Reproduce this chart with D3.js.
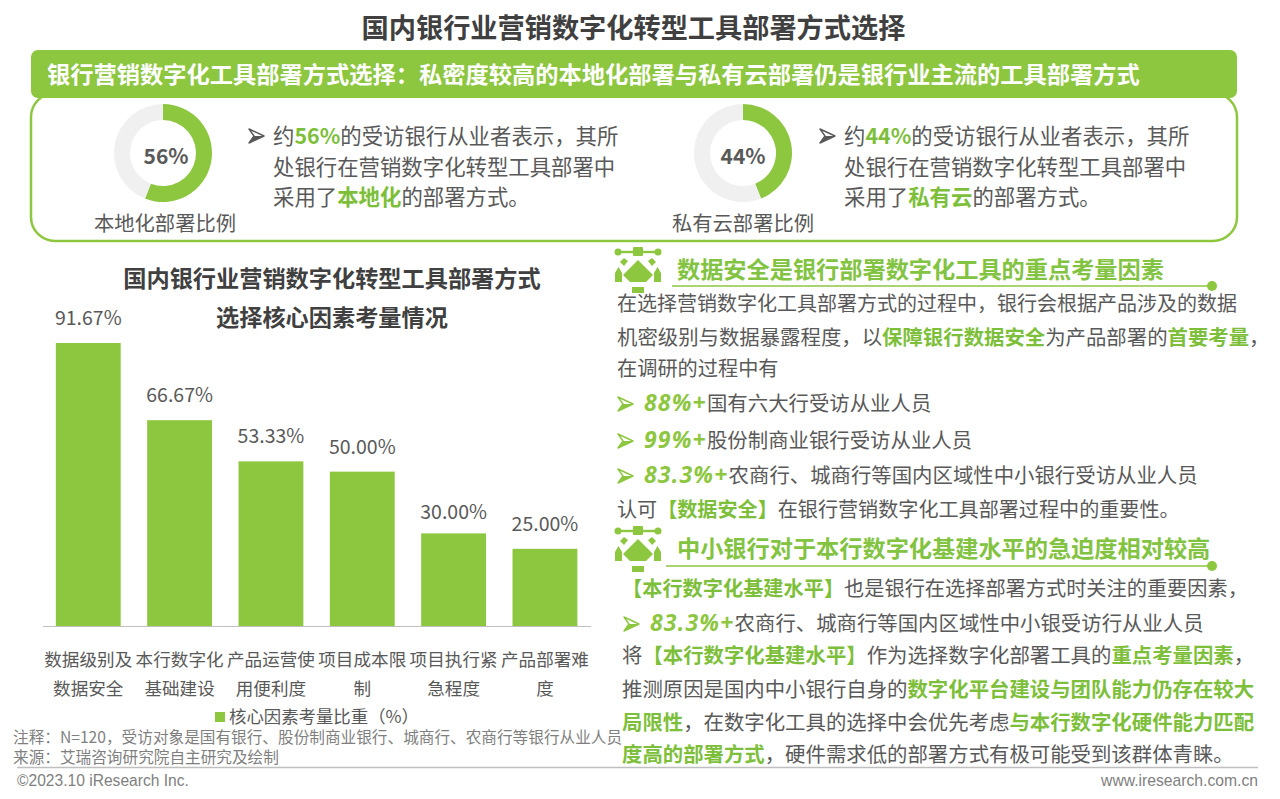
<!DOCTYPE html>
<html><head><meta charset="utf-8">
<script src="https://cdn.jsdelivr.net/npm/d3@7"></script>
<style>
html,body{margin:0;padding:0;background:#fff}
svg{display:block}
text{font-family:"Noto Sans CJK SC","Noto Sans",sans-serif}
</style></head><body><svg id="c" width="1280" height="799"></svg>
<script>
const GREEN="#8dc63f", GREY="#595959";
const categories=[["数据级别及","数据安全"],["本行数字化","基础建设"],["产品运营使","用便利度"],["项目成本限","制"],["项目执行紧","急程度"],["产品部署难","度"]];
const barValues=[91.67,66.67,53.33,50.00,30.00,25.00];
const donuts=[{label:"本地化部署比例",value:56,cx:163,lx:165,tx:3},{label:"私有云部署比例",value:44,cx:743,lx:743,tx:0}];
const pageTitle="国内银行业营销数字化转型工具部署方式选择";
const bannerText="银行营销数字化工具部署方式选择：私密度较高的本地化部署与私有云部署仍是银行业主流的工具部署方式";
const chartTitle=["国内银行业营销数字化转型工具部署方式","选择核心因素考量情况"];
const legendLabel="核心因素考量比重（%）";
const notes=["注释：N=120，受访对象是国有银行、股份制商业银行、城商行、农商行等银行从业人员","来源：艾瑞咨询研究院自主研究及绘制"];
// g = bold green, i = italic green
const textBlocks=[
 {x:273,y:144,s:21.4,segs:[["约"],["56%","g"],["的受访银行从业者表示，其所"]]},
 {x:273,y:175,s:21.4,segs:[["处银行在营销数字化转型工具部署中"]]},
 {x:273,y:205,s:21.4,segs:[["采用了"],["本地化","g"],["的部署方式。"]]},
 {x:844,y:144,s:21.4,segs:[["约"],["44%","g"],["的受访银行从业者表示，其所"]]},
 {x:844,y:175,s:21.4,segs:[["处银行在营销数字化转型工具部署中"]]},
 {x:844,y:205,s:21.4,segs:[["采用了"],["私有云","g"],["的部署方式。"]]},
 {x:617,y:311,s:20,segs:[["在选择营销数字化工具部署方式的过程中，银行会根据产品涉及的数据"]]},
 {x:617,y:345,s:20.4,segs:[["机密级别与数据暴露程度，以"],["保障银行数据安全","g"],["为产品部署的"],["首要考量","g"],["，"]]},
 {x:617,y:376,s:20.2,segs:[["在调研的过程中有"]]},
 {x:644,y:411,s:20.4,segs:[["88%+","i"],["国有六大行受访从业人员"]]},
 {x:644,y:448,s:20.4,segs:[["99%+","i"],["股份制商业银行受访从业人员"]]},
 {x:644,y:483,s:20.4,segs:[["83.3%+","i"],["农商行、城商行等国内区域性中小银行受访从业人员"]]},
 {x:617,y:517,s:20.1,segs:[["认可"],["【数据安全】","g"],["在银行营销数字化工具部署过程中的重要性。"]]},
 {x:622,y:596,s:20.2,segs:[["【本行数字化基建水平】","g"],["也是银行在选择部署方式时关注的重要因素，"]]},
 {x:650,y:631,s:20.4,segs:[["83.3%+","i"],["农商行、城商行等国内区域性中小银受访行从业人员"]]},
 {x:622,y:663,s:20.4,segs:[["将"],["【本行数字化基建水平】","g"],["作为选择数字化部署工具的"],["重点考量因素","g"],["，"]]},
 {x:622,y:697,s:20.4,segs:[["推测原因是国内中小银行自身的"],["数字化平台建设与团队能力仍存在较大","g"]]},
 {x:622,y:730,s:20.4,segs:[["局限性","g"],["，在数字化工具的选择中会优先考虑"],["与本行数字化硬件能力匹配","g"]]},
 {x:622,y:762,s:20.4,segs:[["度高的部署方式","g"],["，硬件需求低的部署方式有极可能受到该群体青睐。"]]}
];
const bullets=[[249,136,GREY],[820,136,GREY],[618,404,GREEN],[618,441,GREEN],[618,476,GREEN],[624,624,GREEN]];
const sections=[{title:"数据安全是银行部署数字化工具的重点考量因素",tx:677,ty:278,ix:638,iy:252,x0:672,x1:1212,ly:286},
 {title:"中小银行对于本行数字化基建水平的急迫度相对较高",tx:677,ty:557,ix:638,iy:531,x0:666,x1:1212,ly:566}];

const svg=d3.select("#c");
const label=(x,y,t,o={})=>svg.append("text").attr("x",x).attr("y",y).text(t)
  .attr("font-size",o.s||20).attr("fill",o.f||GREY).attr("font-weight",o.w||400).attr("text-anchor",o.a||"start");

// header
label(633.5,38,pageTitle,{s:27.2,w:700,f:"#404040",a:"middle"});
svg.append("rect").attr("x",31).attr("y",93).attr("width",1206).attr("height",148).attr("rx",24).attr("fill","#fff").attr("stroke",GREEN).attr("stroke-width",2.5);
svg.append("rect").attr("x",31).attr("y",50).attr("width",1206).attr("height",48).attr("rx",7).attr("fill",GREEN);
label(47,83,bannerText,{s:23.25,w:700,f:"#fff"});

// donuts
const arc=d3.arc().innerRadius(33).outerRadius(49);
donuts.forEach(d=>{
  const g=svg.append("g").attr("transform",`translate(${d.cx},153)`);
  const pie=d3.pie().sort(null)([d.value,100-d.value]);
  g.selectAll("path").data(pie).join("path").attr("d",arc).attr("fill",(p,i)=>i?"#f0f0f0":GREEN);
  g.append("text").attr("text-anchor","middle").attr("x",d.tx).attr("y",11).attr("font-size",21).attr("font-weight",700).attr("fill",GREY).text(d.value+"%");
  label(d.lx,231,d.label,{s:20.3,a:"middle"});
});

// rich text
textBlocks.forEach(b=>{
  const t=svg.append("text").attr("x",b.x).attr("y",b.y).attr("font-size",b.s).attr("fill",GREY);
  b.segs.forEach(([s,k])=>{
    const sp=t.append("tspan").text(s);
    if(k==="g")sp.attr("fill","#7dbf3a").attr("font-weight",700);
    if(k==="i")sp.attr("fill",GREEN).attr("font-weight",700).attr("font-style","italic").attr("font-size",23).attr("letter-spacing",1.2).attr("font-family","'Open Sans',sans-serif");
  });
});
// bullets: outlined arrowhead with filled lower half
bullets.forEach(([x,y,c])=>{
  svg.append("path").attr("d",`M${x} ${y-7}L${x+15} ${y}L${x} ${y+7}L${x+5} ${y}Z`).attr("fill","#fff").attr("stroke",c).attr("stroke-width",1.4).attr("stroke-linejoin","round");
  svg.append("path").attr("d",`M${x+5} ${y}L${x+15} ${y}L${x} ${y+7}Z`).attr("fill",c);
});
// section headings + icons
sections.forEach(s=>{
  label(s.tx,s.ty,s.title,{s:23.2,w:700,f:"#82c341"});
  svg.append("line").attr("x1",s.x0).attr("x2",s.x1).attr("y1",s.ly).attr("y2",s.ly).attr("stroke",GREEN).attr("stroke-width",1.5);
  svg.append("circle").attr("cx",s.x1).attr("cy",s.ly).attr("r",5).attr("fill",GREEN);
  const g=svg.append("g").attr("transform",`translate(${s.ix},${s.iy})`).attr("fill",GREEN).attr("stroke","none");
  g.append("rect").attr("x",-20).attr("y",-1.2).attr("width",40).attr("height",2.4);
  g.append("circle").attr("cx",-20).attr("cy",0).attr("r",3.5);
  g.append("circle").attr("cx",20).attr("cy",0).attr("r",3.5);
  g.append("rect").attr("x",-5).attr("y",-5).attr("width",10).attr("height",9).attr("rx",1);
  g.append("path").attr("d","M0 8L15 23L8 30H-8L-15 23Z");
  g.append("path").attr("d","M-18 10L-14 6L-10 9L-14 14ZM18 10L14 6L10 9L14 14Z");
  g.append("path").attr("d","M-23 21L-19.5 15L-16 21V30H-23ZM23 21L19.5 15L16 21V30H23Z");
  g.append("rect").attr("x",-6).attr("y",35).attr("width",12).attr("height",6);
});

// bars
const x=d3.scaleBand().domain(categories.map((c,i)=>i)).range([42.6,590.6]).paddingInner(0.29).paddingOuter(0.145);
const y=d3.scaleLinear().domain([0,100]).range([626,317.3]);
chartTitle.forEach((t,i)=>label(332,287+i*39,t,{s:23.2,w:700,f:"#404040",a:"middle"}));
svg.selectAll("rect.bar").data(barValues).join("rect").attr("class","bar")
  .attr("x",(d,i)=>x(i)).attr("width",x.bandwidth()).attr("y",d=>y(d)).attr("height",d=>626-y(d)).attr("fill",GREEN);
svg.selectAll("text.val").data(barValues).join("text").attr("class","val").attr("text-anchor","middle")
  .attr("x",(d,i)=>x(i)+x.bandwidth()/2).attr("y",d=>y(d)-(d===30?14:18)).attr("font-size",19.5).attr("fill",GREY).text(d=>d.toFixed(2)+"%");
const ax=svg.append("g").attr("transform","translate(0,626)").call(d3.axisBottom(x).tickSize(0).tickFormat(""));
ax.select(".domain").attr("stroke","#bfbfbf");
categories.forEach((c,i)=>c.forEach((l,j)=>label(x(i)+x.bandwidth()/2,666+j*29,l,{s:17.6,a:"middle"})));
svg.append("rect").attr("x",215).attr("y",712).attr("width",10).attr("height",10).attr("fill",GREEN);
label(229,723,legendLabel,{s:17.4});
notes.forEach((n,i)=>label(13,743+i*19.5,n,{s:15.65,f:"#7f7f7f"}));

// footer
svg.append("line").attr("x1",17).attr("x2",1258).attr("y1",767.5).attr("y2",767.5).attr("stroke","#bfbfbf").attr("stroke-width",1.5);
svg.append("text").attr("x",17).attr("y",786).attr("font-size",15.6).attr("fill","#7f7f7f").style("font-family","'Liberation Sans',sans-serif").text("©2023.10 iResearch Inc.");
svg.append("text").attr("x",1258).attr("y",786).attr("text-anchor","end").attr("font-size",15.7).attr("fill","#7f7f7f").style("font-family","'Liberation Sans',sans-serif").text("www.iresearch.com.cn");
</script></body></html>
